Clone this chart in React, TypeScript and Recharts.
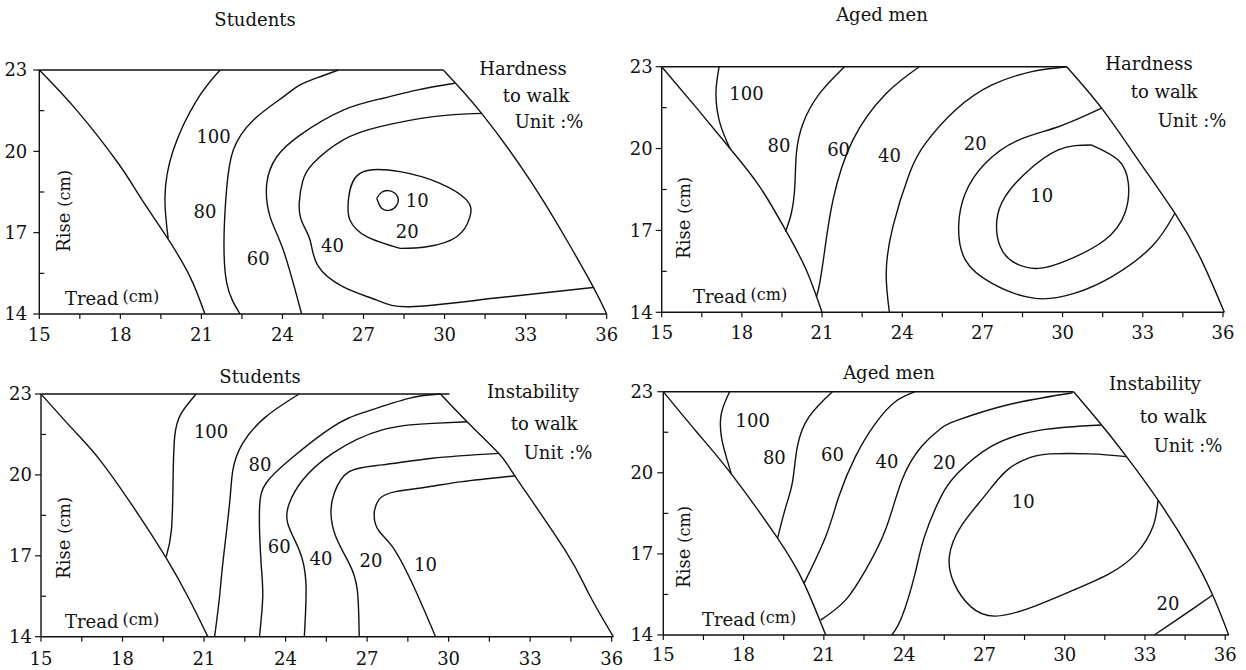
import React from 'react';
import { ComposedChart, Line, Scatter, XAxis, YAxis } from 'recharts';

type P = { x: number; y: number };
type L = { x: number; y: number; t: string };

const X_TICKS = [15, 16.5, 18, 19.5, 21, 22.5, 24, 25.5, 27, 28.5, 30, 31.5, 33, 34.5, 36];
const Y_TICKS = [14, 15.5, 17, 18.5, 20, 21.5, 23];
const X_LABELS = [15, 18, 21, 24, 27, 30, 33, 36];
const Y_LABELS = [14, 17, 20, 23];

// ---------- Top-left: Students, Hardness to walk ----------
const tlLeftEdge: P[] = [
  { x: 21.13, y: 14 }, { x: 20.58, y: 15.37 }, { x: 19.71, y: 16.85 }, { x: 18.73, y: 18.32 },
  { x: 17.92, y: 19.56 }, { x: 16.38, y: 21.52 }, { x: 15, y: 23 },
];
const tlTopEdge: P[] = [{ x: 15, y: 23 }, { x: 29.95, y: 23 }];
const tlRightEdge: P[] = [
  { x: 29.95, y: 23 }, { x: 31.37, y: 21.4 }, { x: 33.16, y: 18.94 }, { x: 34.52, y: 16.73 },
  { x: 35.5, y: 15.0 }, { x: 36, y: 14 },
];
const tl100: P[] = [
  { x: 21.69, y: 23 }, { x: 20.83, y: 21.89 }, { x: 19.96, y: 20.05 }, { x: 19.65, y: 18.32 }, { x: 19.77, y: 16.79 },
];
const tl80: P[] = [
  { x: 26.07, y: 23 }, { x: 25.39, y: 22.75 }, { x: 24.65, y: 22.45 }, { x: 24.03, y: 22.01 }, { x: 22.92, y: 21.15 },
  { x: 22.18, y: 20.05 }, { x: 21.94, y: 18.69 }, { x: 21.84, y: 16.97 }, { x: 21.94, y: 15.13 }, { x: 22.43, y: 14 },
];
const tl60: P[] = [
  { x: 30.38, y: 22.51 }, { x: 28.97, y: 22.26 }, { x: 27.73, y: 21.96 }, { x: 26.25, y: 21.52 }, { x: 24.65, y: 20.6 },
  { x: 23.79, y: 19.8 }, { x: 23.42, y: 18.82 }, { x: 23.54, y: 17.59 }, { x: 24.03, y: 16.36 }, { x: 24.71, y: 14 },
];
const tl40: P[] = [
  { x: 31.37, y: 21.4 }, { x: 29.58, y: 21.28 }, { x: 27.61, y: 20.91 }, { x: 26.25, y: 20.42 }, { x: 25.14, y: 19.56 },
  { x: 24.75, y: 18.9 }, { x: 24.62, y: 18.1 }, { x: 24.72, y: 17.4 }, { x: 25.02, y: 16.73 }, { x: 25.3, y: 15.8 },
  { x: 26.25, y: 15 }, { x: 27.49, y: 14.51 }, { x: 28.72, y: 14.27 }, { x: 31.8, y: 14.58 }, { x: 35.5, y: 14.98 },
];
const tl20: P[] = [
  { x: 28.35, y: 16.42 }, { x: 27.12, y: 16.85 }, { x: 26.5, y: 17.46 }, { x: 26.44, y: 18.2 }, { x: 26.87, y: 19.19 },
  { x: 28.35, y: 19.25 }, { x: 29.83, y: 18.82 }, { x: 30.82, y: 18.2 }, { x: 30.94, y: 17.59 }, { x: 30.45, y: 16.85 },
  { x: 29.34, y: 16.48 }, { x: 28.35, y: 16.42 },
];
const tl10: P[] = [
  { x: 27.49, y: 18.27 }, { x: 27.67, y: 18.49 }, { x: 27.98, y: 18.54 }, { x: 28.26, y: 18.32 }, { x: 28.23, y: 18.02 },
  { x: 27.98, y: 17.83 }, { x: 27.67, y: 17.9 }, { x: 27.49, y: 18.27 },
];
const tlLabels: L[] = [
  { x: 21.45, y: 20.54, t: '100' }, { x: 21.13, y: 17.77, t: '80' }, { x: 23.1, y: 16.05, t: '60' },
  { x: 25.85, y: 16.54, t: '40' }, { x: 28.62, y: 17.03, t: '20' }, { x: 28.99, y: 18.2, t: '10' },
];

// ---------- Top-right: Aged men, Hardness to walk ----------
const trLeftEdge: P[] = [
  { x: 21, y: 14 }, { x: 20.41, y: 15.55 }, { x: 19.67, y: 16.95 }, { x: 18.67, y: 18.6 },
  { x: 17.55, y: 20.01 }, { x: 16.31, y: 21.48 }, { x: 15, y: 23 },
];
const trTopEdge: P[] = [{ x: 15, y: 23 }, { x: 30.15, y: 23 }];
const trRightEdge: P[] = [
  { x: 30.15, y: 23 }, { x: 31.46, y: 21.48 }, { x: 32.83, y: 19.58 }, { x: 34.2, y: 17.63 },
  { x: 35.19, y: 15.92 }, { x: 36.05, y: 14 },
];
const tr100: P[] = [{ x: 17.15, y: 23 }, { x: 17.03, y: 22.02 }, { x: 17.18, y: 20.93 }, { x: 17.55, y: 20.01 }];
const tr80: P[] = [
  { x: 21.84, y: 23 }, { x: 20.91, y: 22.02 }, { x: 20.29, y: 20.93 }, { x: 20.04, y: 19.83 }, { x: 19.98, y: 18.6 },
  { x: 19.85, y: 17.63 }, { x: 19.63, y: 16.95 },
];
const tr60: P[] = [
  { x: 24.64, y: 23 }, { x: 23.4, y: 22.02 }, { x: 22.15, y: 20.31 }, { x: 21.41, y: 18.12 }, { x: 21.1, y: 16.28 },
  { x: 20.91, y: 15.06 }, { x: 20.79, y: 14.57 },
];
const tr40: P[] = [
  { x: 30.15, y: 23 }, { x: 28.85, y: 22.82 }, { x: 27.36, y: 22.33 }, { x: 25.99, y: 21.41 }, { x: 24.87, y: 20.19 },
  { x: 24.27, y: 19.09 }, { x: 23.65, y: 17.14 }, { x: 23.4, y: 15.43 }, { x: 23.52, y: 14 },
];
const tr20: P[] = [
  { x: 31.46, y: 21.48 }, { x: 29.84, y: 20.8 }, { x: 28.35, y: 20.31 }, { x: 27.11, y: 19.46 }, { x: 26.36, y: 18.36 },
  { x: 26.11, y: 17.14 }, { x: 26.36, y: 15.92 }, { x: 27.36, y: 15.06 }, { x: 28.97, y: 14.51 }, { x: 30.46, y: 14.7 },
  { x: 31.83, y: 15.3 }, { x: 33.33, y: 16.4 }, { x: 34.2, y: 17.63 },
];
const tr10: P[] = [
  { x: 31.09, y: 20.13 }, { x: 32.08, y: 19.58 }, { x: 32.46, y: 18.73 }, { x: 32.33, y: 17.63 }, { x: 31.58, y: 16.65 },
  { x: 30.21, y: 15.92 }, { x: 29.1, y: 15.61 }, { x: 28.23, y: 15.8 }, { x: 27.67, y: 16.4 }, { x: 27.54, y: 17.38 },
  { x: 27.85, y: 18.24 }, { x: 28.6, y: 19.09 }, { x: 29.84, y: 19.95 }, { x: 31.09, y: 20.13 },
];
const trLabels: L[] = [
  { x: 18.17, y: 22.02, t: '100' }, { x: 19.39, y: 20.1, t: '80' }, { x: 21.62, y: 19.95, t: '60' },
  { x: 23.52, y: 19.76, t: '40' }, { x: 26.73, y: 20.17, t: '20' }, { x: 29.22, y: 18.27, t: '10' },
];

// ---------- Bottom-left: Students, Instability to walk ----------
const blLeftEdge: P[] = [
  { x: 21.14, y: 14 }, { x: 20.47, y: 15.36 }, { x: 19.61, y: 16.91 }, { x: 18.39, y: 18.82 },
  { x: 17.17, y: 20.55 }, { x: 16.19, y: 21.67 }, { x: 15, y: 23 },
];
const blTopEdge: P[] = [{ x: 15, y: 23 }, { x: 30.03, y: 23 }];
const blRightEdge: P[] = [
  { x: 29.7, y: 23 }, { x: 30.68, y: 21.97 }, { x: 31.84, y: 20.8 }, { x: 32.46, y: 19.93 }, { x: 34.29, y: 17.2 },
  { x: 35.15, y: 15.61 }, { x: 36.06, y: 14 },
];
const bl100: P[] = [
  { x: 20.71, y: 23 }, { x: 20.16, y: 22.28 }, { x: 19.92, y: 21.42 }, { x: 19.86, y: 19.81 }, { x: 19.8, y: 17.96 },
  { x: 19.61, y: 16.97 },
];
const bl80: P[] = [
  { x: 24.5, y: 23 }, { x: 23.28, y: 22.16 }, { x: 22.42, y: 21.17 }, { x: 22.06, y: 20.18 }, { x: 21.94, y: 18.95 },
  { x: 21.69, y: 16.72 }, { x: 21.57, y: 15.48 }, { x: 21.39, y: 14 },
];
const bl60: P[] = [
  { x: 29.7, y: 23 }, { x: 28.54, y: 22.84 }, { x: 26.95, y: 22.34 }, { x: 25.73, y: 21.78 }, { x: 24.14, y: 20.55 },
  { x: 23.28, y: 19.69 }, { x: 23.04, y: 18.7 }, { x: 23.1, y: 16.72 }, { x: 23.16, y: 15.48 }, { x: 23.04, y: 14 },
];
const bl40: P[] = [
  { x: 30.68, y: 21.97 }, { x: 29.4, y: 21.91 }, { x: 27.56, y: 21.67 }, { x: 25.73, y: 20.8 }, { x: 24.63, y: 19.81 },
  { x: 24.14, y: 18.95 }, { x: 24.08, y: 18.2 }, { x: 24.5, y: 17.22 }, { x: 24.75, y: 15.98 }, { x: 24.69, y: 14 },
];
const bl20: P[] = [
  { x: 31.84, y: 20.8 }, { x: 29.4, y: 20.62 }, { x: 27.56, y: 20.37 }, { x: 26.34, y: 20.12 }, { x: 25.79, y: 19.32 },
  { x: 25.67, y: 18.58 }, { x: 25.85, y: 17.71 }, { x: 26.34, y: 16.72 }, { x: 26.64, y: 15.73 }, { x: 26.71, y: 14 },
];
const bl10: P[] = [
  { x: 32.46, y: 19.97 }, { x: 30.5, y: 19.75 }, { x: 29.28, y: 19.56 }, { x: 28.05, y: 19.38 }, { x: 27.45, y: 19.1 },
  { x: 27.26, y: 18.5 }, { x: 27.45, y: 17.9 }, { x: 27.93, y: 17.34 }, { x: 28.66, y: 15.98 }, { x: 29.52, y: 14 },
];
const blLabels: L[] = [
  { x: 21.26, y: 21.6, t: '100' }, { x: 23.06, y: 20.37, t: '80' }, { x: 23.77, y: 17.34, t: '60' },
  { x: 25.3, y: 16.91, t: '40' }, { x: 27.14, y: 16.84, t: '20' }, { x: 29.15, y: 16.66, t: '10' },
];

// ---------- Bottom-right: Aged men, Instability to walk ----------
const brLeftEdge: P[] = [
  { x: 21.07, y: 14 }, { x: 20.26, y: 15.91 }, { x: 19.27, y: 17.58 }, { x: 17.54, y: 19.96 },
  { x: 16.24, y: 21.52 }, { x: 15, y: 23 },
];
const brTopEdge: P[] = [{ x: 15, y: 23 }, { x: 30.33, y: 23 }];
const brRightEdge: P[] = [
  { x: 30.33, y: 23 }, { x: 31.38, y: 21.77 }, { x: 32.31, y: 20.6 }, { x: 33.49, y: 18.99 }, { x: 34.67, y: 17.14 },
  { x: 35.53, y: 15.48 }, { x: 36.13, y: 14 },
];
const br100: P[] = [
  { x: 17.48, y: 23 }, { x: 17.17, y: 22.2 }, { x: 17.17, y: 21.34 }, { x: 17.35, y: 20.6 }, { x: 17.54, y: 19.96 },
];
const br80: P[] = [
  { x: 21.32, y: 23 }, { x: 20.45, y: 22.08 }, { x: 20.01, y: 20.97 }, { x: 19.83, y: 19.67 }, { x: 19.58, y: 18.75 },
  { x: 19.27, y: 17.58 },
];
const br60: P[] = [
  { x: 24.41, y: 23 }, { x: 23.67, y: 22.63 }, { x: 22.93, y: 21.83 }, { x: 22.18, y: 20.6 }, { x: 21.56, y: 19.12 },
  { x: 21.07, y: 17.64 }, { x: 20.26, y: 15.91 },
];
const br40: P[] = [
  { x: 30.3, y: 22.96 }, { x: 27.85, y: 22.51 }, { x: 26, y: 21.95 }, { x: 25.38, y: 21.65 }, { x: 24.65, y: 20.97 },
  { x: 23.92, y: 19.73 }, { x: 23.3, y: 17.88 }, { x: 22.56, y: 16.4 }, { x: 21.81, y: 15.29 }, { x: 20.88, y: 14.55 },
];
const br20: P[] = [
  { x: 31.38, y: 21.77 }, { x: 29.09, y: 21.58 }, { x: 27.24, y: 20.97 }, { x: 26, y: 19.98 }, { x: 25.38, y: 19.12 },
  { x: 24.76, y: 17.64 }, { x: 24.41, y: 16.28 }, { x: 23.92, y: 14.68 }, { x: 23.54, y: 14 },
];
const br10: P[] = [
  { x: 32.31, y: 20.6 }, { x: 30.95, y: 20.7 }, { x: 29.47, y: 20.7 }, { x: 28.72, y: 20.57 }, { x: 27.85, y: 20.1 },
  { x: 26.99, y: 19.12 }, { x: 26.12, y: 18.01 }, { x: 25.69, y: 16.9 }, { x: 25.87, y: 15.91 }, { x: 26.49, y: 15.05 },
  { x: 27.42, y: 14.7 }, { x: 28.84, y: 15.05 }, { x: 30.33, y: 15.66 }, { x: 31.69, y: 16.28 }, { x: 32.68, y: 17.02 },
  { x: 33.3, y: 18.01 }, { x: 33.49, y: 18.99 },
];
const br20b: P[] = [
  { x: 35.53, y: 15.48 }, { x: 34.91, y: 15.05 }, { x: 34.17, y: 14.55 }, { x: 33.35, y: 14 },
];
const brLabels: L[] = [
  { x: 18.34, y: 21.95, t: '100' }, { x: 19.15, y: 20.57, t: '80' }, { x: 21.32, y: 20.69, t: '60' },
  { x: 23.36, y: 20.41, t: '40' }, { x: 25.5, y: 20.39, t: '20' }, { x: 28.45, y: 18.93, t: '10' },
  { x: 33.86, y: 15.17, t: '20' },
];

const FONT = '"DejaVu Serif", "Liberation Serif", serif';
const INK = '#111';
const CHART_W = 623;
const CHART_H = 360;
const X_AXIS_H = 46;

type PanelCfg = {
  left: number; top: number;
  margin: { top: number; right: number; bottom: number; left: number };
  edges: P[][];
  contours: P[][];
  labels: L[];
  xLabelDy: number;
  yLabelDx: number;
};

const XTick = (props: any) => {
  const { x, y, payload, dy } = props;
  const v = payload.value;
  const major = X_LABELS.includes(v);
  return (
    <g>
      <line x1={x} x2={x} y1={y} y2={y + 5} stroke={INK} strokeWidth={1.2} />
      {major && (
        <text x={x} y={y + dy} textAnchor="middle" fontFamily={FONT} fontSize={18} fill={INK}>
          {v}
        </text>
      )}
    </g>
  );
};

const YTick = (props: any) => {
  const { x, y, payload, dx } = props;
  const v = payload.value;
  const major = Y_LABELS.includes(v);
  return (
    <g>
      {major ? (
        <line x1={x - 6} x2={x} y1={y} y2={y} stroke={INK} strokeWidth={1.2} />
      ) : (
        <line x1={x} x2={x + 5} y1={y} y2={y} stroke={INK} strokeWidth={1.2} />
      )}
      {major && (
        <text x={x - dx} y={y} dy="0.36em" textAnchor="end" fontFamily={FONT} fontSize={18} fill={INK}>
          {v}
        </text>
      )}
    </g>
  );
};

const LabelShape = (props: any) => {
  const { cx, cy, payload } = props;
  return (
    <text x={cx} y={cy} dy="0.36em" textAnchor="middle" fontFamily={FONT} fontSize={18} fill={INK}>
      {payload.t}
    </text>
  );
};

const Panel = ({ cfg }: { cfg: PanelCfg }) => (
  <div style={{ position: 'absolute', left: cfg.left, top: cfg.top, width: CHART_W, height: CHART_H }}>
    <ComposedChart width={CHART_W} height={CHART_H} margin={cfg.margin}>
      <XAxis
        type="number"
        dataKey="x"
        domain={[15, 36]}
        ticks={X_TICKS}
        interval={0}
        height={X_AXIS_H}
        tickSize={0}
        tickMargin={0}
        tickLine={false}
        axisLine={{ stroke: INK, strokeWidth: 1.4 }}
        tick={<XTick dy={cfg.xLabelDy} />}
      />
      <YAxis
        type="number"
        dataKey="y"
        domain={[14, 23]}
        ticks={Y_TICKS}
        interval={0}
        width={30}
        tickSize={0}
        tickMargin={0}
        tickLine={false}
        axisLine={{ stroke: INK, strokeWidth: 1.4 }}
        tick={<YTick dx={cfg.yLabelDx} />}
      />
      {cfg.edges.map((d, i) => (
        <Line
          key={'e' + i}
          data={d}
          dataKey="y"
          type={d.length > 2 ? 'natural' : 'linear'}
          stroke={INK}
          strokeWidth={1.4}
          dot={false}
          activeDot={false}
          isAnimationActive={false}
        />
      ))}
      {cfg.contours.map((d, i) => (
        <Line
          key={'c' + i}
          data={d}
          dataKey="y"
          type="natural"
          stroke={INK}
          strokeWidth={1.4}
          dot={false}
          activeDot={false}
          isAnimationActive={false}
        />
      ))}
      <Scatter data={cfg.labels} dataKey="y" shape={<LabelShape />} isAnimationActive={false} />
    </ComposedChart>
  </div>
);

const PANELS: PanelCfg[] = [
  {
    left: 0, top: 0,
    margin: { top: 70, right: 16.3, bottom: CHART_H - 314 - X_AXIS_H, left: 9.3 },
    edges: [tlLeftEdge, tlTopEdge, tlRightEdge],
    contours: [tl100, tl80, tl60, tl40, tl20, tl10],
    labels: tlLabels, xLabelDy: 27, yLabelDx: 12,
  },
  {
    left: 623, top: 0,
    margin: { top: 66.7, right: 21.7, bottom: CHART_H - 312.3 - X_AXIS_H, left: 8.7 },
    edges: [trLeftEdge, trTopEdge, trRightEdge],
    contours: [tr100, tr80, tr60, tr40, tr20, tr10],
    labels: trLabels, xLabelDy: 27, yLabelDx: 9,
  },
  {
    left: 0, top: 330,
    margin: { top: 64, right: 9.7, bottom: CHART_H - 306.7 - X_AXIS_H, left: 11 },
    edges: [blLeftEdge, blTopEdge, blRightEdge],
    contours: [bl100, bl80, bl60, bl40, bl20, bl10],
    labels: blLabels, xLabelDy: 28, yLabelDx: 9,
  },
  {
    left: 623, top: 330,
    margin: { top: 61.7, right: 17.3, bottom: CHART_H - 305 - X_AXIS_H, left: 10.3 },
    edges: [brLeftEdge, brTopEdge, brRightEdge],
    contours: [br100, br80, br60, br40, br20, br10, br20b],
    labels: brLabels, xLabelDy: 26, yLabelDx: 10,
  },
];

const T = ({ x, y, children, anchor = 'middle' }: any) => (
  <text x={x} y={y} textAnchor={anchor} fontFamily={FONT} fontSize={18} fill={INK}>
    {children}
  </text>
);

const Tread = ({ x, y }: { x: number; y: number }) => (
  <text x={x} y={y} fontFamily={FONT} fontSize={18} fill={INK}>
    Tread
    <tspan fontSize={16} dx={4} dy={-3}>(cm)</tspan>
  </text>
);

const Rise = ({ x, y }: { x: number; y: number }) => (
  <text transform={`translate(${x},${y}) rotate(-90)`} textAnchor="middle" fontFamily={FONT} fontSize={18} fill={INK}>
    Rise
    <tspan fontSize={16} dx={6}>(cm)</tspan>
  </text>
);

const Overlay = () => (
  <svg width={1246} height={670} style={{ position: 'absolute', left: 0, top: 0, pointerEvents: 'none' }}>
    <T x={255} y={26}>Students</T>
    <T x={882} y={21}>Aged men</T>
    <T x={260} y={383}>Students</T>
    <T x={889} y={379}>Aged men</T>

    <T x={523} y={75}>Hardness</T>
    <T x={536} y={102}>to walk</T>
    <T x={549} y={128}>Unit :%</T>

    <T x={1149} y={70}>Hardness</T>
    <T x={1164} y={98}>to walk</T>
    <T x={1192} y={127}>Unit :%</T>

    <T x={533} y={398}>Instability</T>
    <T x={544} y={430}>to walk</T>
    <T x={558} y={459}>Unit :%</T>

    <T x={1155} y={390}>Instability</T>
    <T x={1173} y={423}>to walk</T>
    <T x={1188} y={452}>Unit :%</T>

    <Tread x={65} y={305} />
    <Tread x={693} y={303} />
    <Tread x={65} y={628} />
    <Tread x={702} y={626} />

    <Rise x={70} y={211} />
    <Rise x={690} y={218} />
    <Rise x={70} y={538} />
    <Rise x={690} y={547} />
  </svg>
);

export default function App() {
  return (
    <div style={{ position: 'absolute', left: 0, top: 0, width: 1246, height: 670, background: '#fff', overflow: 'hidden' }}>
      {PANELS.map((p, i) => (
        <Panel key={i} cfg={p} />
      ))}
      <Overlay />
    </div>
  );
}
